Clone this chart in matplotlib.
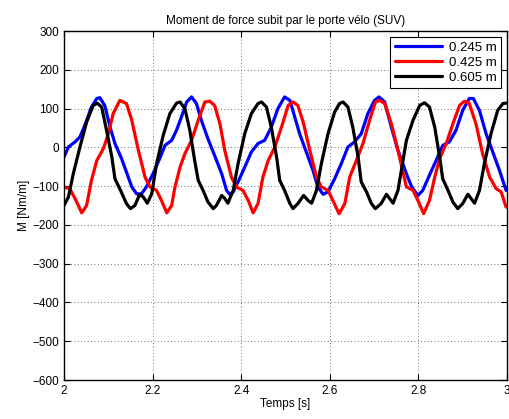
import numpy as np
import matplotlib
matplotlib.use("Agg")
import matplotlib.pyplot as plt

plt.rcParams['font.family'] = ['Liberation Sans', 'DejaVu Sans']

# valeurs (temps [s], moment [Nm/m])
t_245 = [2.000, 2.010, 2.025, 2.036, 2.047, 2.062, 2.074, 2.081, 2.092, 2.104,
         2.115, 2.130, 2.141, 2.153, 2.164, 2.175, 2.186, 2.201, 2.216, 2.228,
         2.243, 2.254, 2.265, 2.277, 2.288, 2.299, 2.310, 2.325, 2.340, 2.356,
         2.367, 2.374, 2.382, 2.393, 2.408, 2.423, 2.438, 2.453, 2.468, 2.483,
         2.498, 2.510, 2.521, 2.532, 2.547, 2.562, 2.573, 2.585, 2.596, 2.611,
         2.626, 2.641, 2.656, 2.671, 2.686, 2.701, 2.711, 2.724, 2.739, 2.754,
         2.773, 2.785, 2.799, 2.810, 2.825, 2.840, 2.855, 2.870, 2.885, 2.900,
         2.915, 2.924, 2.938, 2.953, 2.968, 2.983, 2.998]
m_245 = [-25, 1, 14, 27, 57, 104, 126, 128, 108, 52,
         10, -29, -64, -102, -120, -120, -102, -68, -29, 5,
         18, 44, 78, 117, 130, 113, 70, 22, -21, -68,
         -111, -121, -115, -89, -51, -12, 10, 18, 52, 100,
         130, 121, 78, 35, -12, -59, -102, -121, -115, -81,
         -42, 1, 14, 35, 87, 121, 130, 117, 52, -8,
         -68, -102, -124, -111, -72, -34, 5, 14, 44, 95,
         126, 126, 95, 35, -12, -59, -111]

t_425 = [2.000, 2.013, 2.025, 2.040, 2.051, 2.062, 2.074, 2.089, 2.100, 2.111,
         2.126, 2.141, 2.153, 2.168, 2.183, 2.194, 2.209, 2.220, 2.232, 2.243,
         2.250, 2.262, 2.273, 2.288, 2.303, 2.318, 2.329, 2.340, 2.352, 2.363,
         2.378, 2.389, 2.404, 2.416, 2.427, 2.438, 2.449, 2.461, 2.476, 2.491,
         2.506, 2.517, 2.528, 2.540, 2.555, 2.570, 2.581, 2.596, 2.607, 2.621,
         2.634, 2.645, 2.660, 2.675, 2.690, 2.703, 2.713, 2.724, 2.739, 2.754,
         2.773, 2.788, 2.799, 2.812, 2.825, 2.837, 2.848, 2.863, 2.878, 2.893,
         2.904, 2.915, 2.930, 2.945, 2.961, 2.976, 2.987, 2.998]
m_425 = [-102, -107, -132, -169, -150, -85, -34, -3, 35, 87,
         121, 113, 70, -8, -77, -102, -111, -137, -169, -150,
         -105, -51, -16, 18, 70, 117, 119, 108, 61, -8,
         -77, -102, -111, -137, -169, -145, -77, -34, 1, 52,
         108, 117, 108, 65, -8, -77, -102, -111, -137, -171,
         -145, -77, -34, 10, 70, 117, 121, 113, 61, -8,
         -102, -111, -137, -171, -137, -77, -29, 10, 61, 108,
         119, 113, 61, -16, -77, -107, -115, -154]

t_605 = [2.000, 2.010, 2.021, 2.036, 2.051, 2.066, 2.075, 2.085, 2.096, 2.108,
         2.115, 2.126, 2.141, 2.150, 2.160, 2.171, 2.179, 2.188, 2.198, 2.209,
         2.224, 2.239, 2.254, 2.262, 2.273, 2.284, 2.295, 2.303, 2.314, 2.325,
         2.337, 2.344, 2.356, 2.363, 2.370, 2.382, 2.393, 2.408, 2.423, 2.438,
         2.446, 2.457, 2.468, 2.480, 2.487, 2.498, 2.510, 2.517, 2.528, 2.541,
         2.551, 2.559, 2.570, 2.581, 2.596, 2.611, 2.622, 2.630, 2.641, 2.652,
         2.664, 2.671, 2.683, 2.694, 2.703, 2.716, 2.728, 2.735, 2.743, 2.754,
         2.763, 2.773, 2.788, 2.803, 2.814, 2.825, 2.837, 2.848, 2.855, 2.867,
         2.878, 2.889, 2.900, 2.912, 2.919, 2.927, 2.938, 2.949, 2.964, 2.979,
         2.991, 2.998]
m_605 = [-150, -128, -68, 1, 65, 108, 114, 104, 44, -25,
         -81, -107, -145, -158, -150, -121, -128, -144, -120, -42,
         31, 87, 114, 117, 100, 44, -34, -85, -111, -141,
         -158, -150, -124, -132, -144, -111, -42, 35, 87, 113,
         117, 104, 52, -25, -85, -111, -145, -158, -145, -124,
         -137, -144, -111, -42, 35, 91, 113, 117, 104, 52,
         -25, -89, -115, -145, -158, -145, -121, -132, -144, -111,
         -50, 18, 70, 108, 115, 104, 52, -25, -81, -111,
         -141, -158, -145, -121, -132, -144, -111, -42, 35, 95,
         113, 114]

labels = ['0.245 m', '0.425 m', '0.605 m']
colors = ['#0000ff', '#ff0000', '#000000']

fig = plt.figure(figsize=(5.1, 4.19), dpi=100)
ax = fig.add_axes([0.1255, 0.093, 0.8685, 0.833])

for t, m, lab, c in zip([t_245, t_425, t_605], [m_245, m_425, m_605], labels, colors):
    ax.plot(t, m, color=c, lw=2.3, label=lab, solid_joinstyle='round',
            solid_capstyle='round')

ax.set_xlim(2, 3)
ax.set_ylim(-600, 300)
ax.set_xticks(np.arange(2, 3.01, 0.2))
ax.set_xticklabels(['2', '2.2', '2.4', '2.6', '2.8', '3'])
ax.set_yticks(np.arange(-600, 301, 100))
ax.tick_params(direction='in', top=True, right=True, labelsize=8.5, length=4)
ax.grid(True, linestyle=(0, (1, 3)), color='#404040', lw=0.6)
for s in ax.spines.values():
    s.set_linewidth(1.0)

ax.set_title('Moment de force subit par le porte vélo (SUV)', fontsize=8.5, pad=5)
ax.set_xlabel('Temps [s]', fontsize=8.5, labelpad=1)
ax.set_ylabel('M [Nm/m]', fontsize=8.5, labelpad=2)

leg = ax.legend(loc='upper right', fontsize=9.5, handlelength=3.6, fancybox=False,
                edgecolor='black', framealpha=1, borderaxespad=0.45,
                borderpad=0.35, labelspacing=0.2, handletextpad=0.5)
leg.get_frame().set_linewidth(0.8)

fig.savefig('out.png', dpi=100)
